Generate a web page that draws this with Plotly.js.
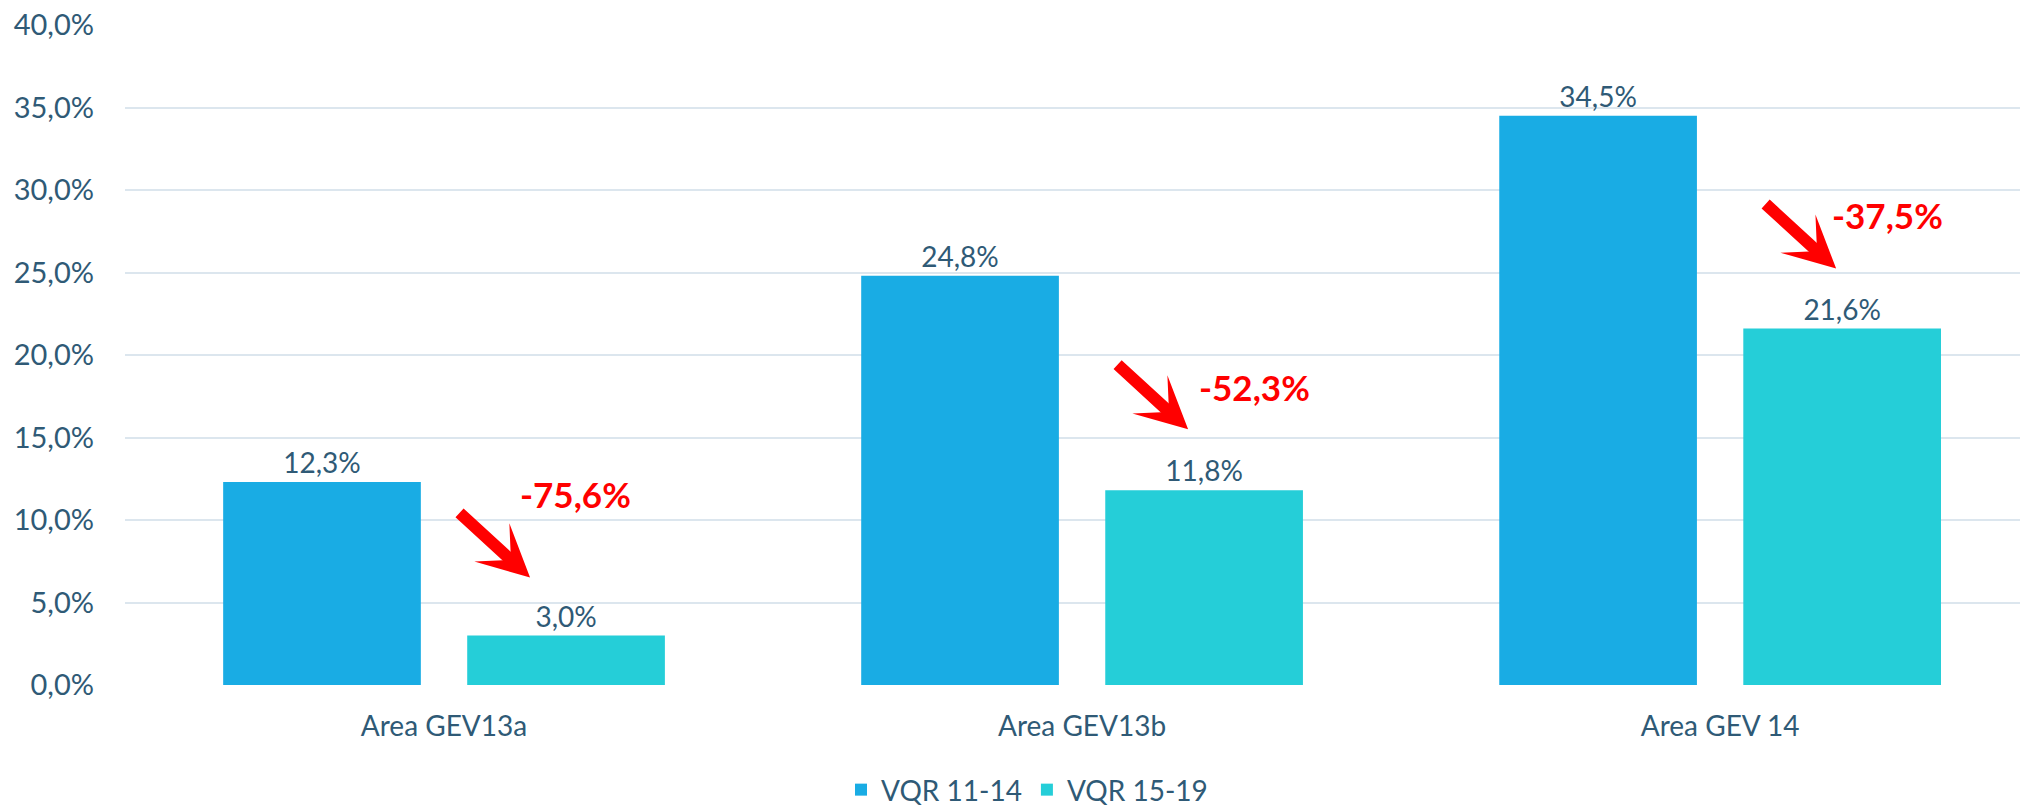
<!DOCTYPE html>
<html>
<head>
<meta charset="utf-8">
<script src="https://cdn.plot.ly/plotly-3.0.1.min.js"></script>
<style>html,body{margin:0;padding:0;background:#fff;}#chart{width:2020px;height:806px;}</style>
</head>
<body>
<div id="chart"></div>
<script>
// ---- data ----
const categories = ["Area GEV13a", "Area GEV13b", "Area GEV 14"];
const seriesNames = ["VQR 11-14", "VQR 15-19"];
const vqr1114 = [12.3, 24.8, 34.5];
const vqr1519 = [3.0, 11.8, 21.6];
const changeLabels = ["-75,6%", "-52,3%", "-37,5%"];

// ---- styling ----
const textColor = "#2F5A76";
const fontFamily = "Lato, 'Open Sans', sans-serif";
const bargap = 0.235;
const bar2Offset = (1 - bargap) / 4;   // centre of second bar relative to category

// per-callout pixel nudges (hand placed in reference)
const arrowShift = [[-36, -58], [-16, -61], [-6, -60]];
const labelShift = [[9, 142], [50, 103], [45, 114]];

const traces = [
  {
    type: "bar", name: seriesNames[0], x: categories, y: vqr1114,
    marker: {color: "#19ACE4"},
    texttemplate: "%{y:.1f}%", textposition: "outside",
    textfont: {family: fontFamily, size: 28, color: textColor},
    cliponaxis: false, hoverinfo: "none"
  },
  {
    type: "bar", name: seriesNames[1], x: categories, y: vqr1519,
    marker: {color: "#25CED8"},
    texttemplate: "%{y:.1f}%", textposition: "outside",
    textfont: {family: fontFamily, size: 28, color: textColor},
    cliponaxis: false, hoverinfo: "none"
  }
];

const annotations = [];
categories.forEach((c, i) => {
  annotations.push({
    xref: "x", yref: "y", x: i + bar2Offset, y: vqr1519[i],
    xshift: arrowShift[i][0], yshift: -arrowShift[i][1],
    text: "", showarrow: true, arrowhead: 3, arrowsize: 0.72, arrowwidth: 12,
    arrowcolor: "#FF0000", ax: -72, ay: -66, standoff: 0
  });
  annotations.push({
    xref: "x", yref: "y", x: i + bar2Offset, y: vqr1519[i],
    xshift: labelShift[i][0], yshift: labelShift[i][1],
    text: "<b>" + changeLabels[i] + "</b>", showarrow: false,
    font: {family: fontFamily, size: 35, color: "#FF0000"},
    xanchor: "center", yanchor: "middle"
  });
});

const layout = {
  width: 2020, height: 806,
  margin: {l: 125, r: 0, t: 25, b: 121, autoexpand: false},
  paper_bgcolor: "#ffffff", plot_bgcolor: "#ffffff",
  separators: ",.",
  barmode: "group", bargap: bargap, bargroupgap: 0.19,
  font: {family: fontFamily, size: 28, color: textColor},
  xaxis: {
    type: "category", range: [-0.5, 2.47],
    showgrid: false, showline: false, zeroline: false,
    ticks: "", ticklabelstandoff: 22, automargin: false,
    tickfont: {family: fontFamily, size: 28, color: textColor}
  },
  yaxis: {
    range: [0, 40], dtick: 5, tick0: 0, tickformat: ".1f", ticksuffix: "%",
    showgrid: true, gridcolor: "#DCE6EE", gridwidth: 2, automargin: false,
    zeroline: false, showline: false, ticks: "", ticklabelstandoff: 30,
    tickfont: {family: fontFamily, size: 29, color: textColor}
  },
  legend: {
    orientation: "h", x: 0.476, xanchor: "center", y: -0.159, yanchor: "middle",
    font: {family: fontFamily, size: 28, color: textColor}
  },
  showlegend: true,
  annotations: annotations
};

Plotly.newPlot("chart", traces, layout, {staticPlot: true, displayModeBar: false});
</script>
</body>
</html>
